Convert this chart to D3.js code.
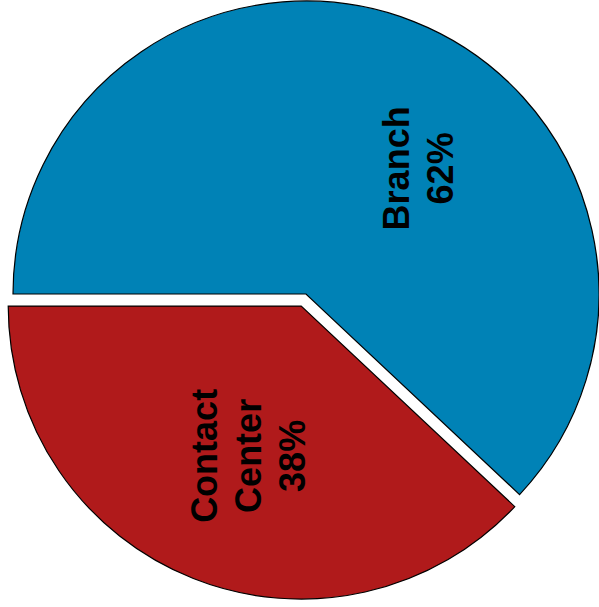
<!DOCTYPE html>
<html>
<head>
<meta charset="utf-8">
<script src="https://cdn.jsdelivr.net/npm/d3@7"></script>
<style>
  body { margin: 0; background: #fff; }
  .lbl { font-family: "Liberation Sans", Arial, sans-serif; font-weight: bold; font-size: 36px; fill: #000; }
</style>
</head>
<body>
<div id="chart"></div>
<script>
var categories = ["Branch", "Contact Center"];
var values = [62, 38];
var labelLines = [["Branch", "62%"], ["Contact", "Center", "38%"]];

var width = 599, height = 607;
var cx = 306, cy = 294, radius = 293;
var explode = 13;
var colors = d3.scaleOrdinal().domain(categories).range(["#0082b6", "#b01a1b"]);

var data = categories.map(function (c, i) { return { name: c, value: values[i], lines: labelLines[i] }; });

// start at 9 o'clock, go clockwise
var pie = d3.pie()
    .sort(null)
    .value(function (d) { return d.value; })
    .startAngle(-Math.PI / 2)
    .endAngle(3 * Math.PI / 2);

var arc = d3.arc().innerRadius(0).outerRadius(radius);

// label placement: angle shift (deg) from mid angle, and distance from slice tip
var labelShift = [20, -2];
var labelDist = [168, 159];
var explodeBy = [0, explode];

var svg = d3.select("#chart")
    .append("svg")
    .attr("width", width)
    .attr("height", height);

var g = svg.append("g")
    .attr("transform", "translate(" + cx + "," + cy + ")");

var slices = g.selectAll(".slice")
    .data(pie(data))
    .enter()
    .append("g")
    .attr("class", "slice")
    .attr("transform", function (d, i) {
        var mid = (d.startAngle + d.endAngle) / 2;
        var p = d3.pointRadial(mid, explodeBy[i]);
        return "translate(" + p[0] + "," + p[1] + ")";
    });

slices.append("path")
    .attr("d", arc)
    .attr("fill", function (d) { return colors(d.data.name); })
    .attr("stroke", "#000")
    .attr("stroke-width", 1.2)
    .attr("stroke-linejoin", "miter");

var lineGap = 44;
slices.each(function (d, i) {
    var mid = (d.startAngle + d.endAngle) / 2 + labelShift[i] * Math.PI / 180;
    var p = d3.pointRadial(mid, labelDist[i]);
    var n = d.data.lines.length;
    var t = d3.select(this).append("g")
        .attr("transform", "translate(" + p[0] + "," + p[1] + ") rotate(-90)");
    t.selectAll("text")
        .data(d.data.lines)
        .enter()
        .append("text")
        .attr("class", "lbl")
        .attr("text-anchor", "middle")
        .attr("x", 0)
        .attr("y", function (s, k) { return (k - (n - 1) / 2) * lineGap + 13; })
        .text(function (s) { return s; });
});
</script>
</body>
</html>
